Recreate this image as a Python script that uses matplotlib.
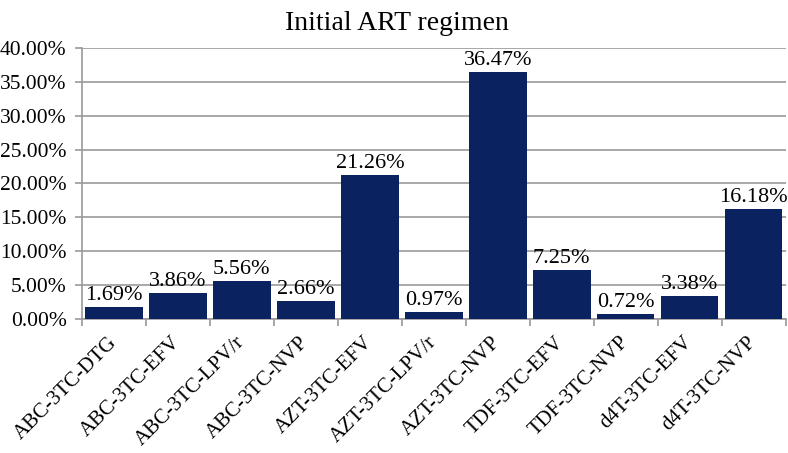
import numpy as np
import matplotlib.pyplot as plt
from matplotlib.ticker import FuncFormatter, FixedLocator

regimens = ["ABC-3TC-DTG", "ABC-3TC-EFV", "ABC-3TC-LPV/r", "ABC-3TC-NVP",
            "AZT-3TC-EFV", "AZT-3TC-LPV/r", "AZT-3TC-NVP", "TDF-3TC-EFV",
            "TDF-3TC-NVP", "d4T-3TC-EFV", "d4T-3TC-NVP"]
percent = [1.69, 3.86, 5.56, 2.66, 21.26, 0.97, 36.47, 7.25, 0.72, 3.38, 16.18]

plt.rcParams['font.family'] = ['Liberation Serif', 'DejaVu Serif']

fig = plt.figure(figsize=(7.88, 4.53), dpi=100)
ax = fig.add_axes([0.104, 0.296, 0.893, 0.598])

x = np.arange(len(regimens))
bars = ax.bar(x, percent, width=0.9, color='#0B2260', zorder=3)
for xi, v in zip(x, percent):
    ax.text(xi, v + 0.3, f"{v:.2f}%", ha='center', va='bottom', fontsize=16, zorder=4)

ax.set_xlim(-0.5, len(regimens) - 0.5)
ax.set_ylim(0, 40)
ax.set_yticks(np.arange(0, 41, 5))
ax.yaxis.set_major_formatter(FuncFormatter(lambda v, p: f"{v:.2f}%"))
ax.grid(axis='y', color='#999999', lw=1.2, zorder=0)

ax.set_xticks(x)
ax.set_xticklabels(regimens, rotation=45, ha='right', va='center',
                   rotation_mode='anchor', fontsize=15)
ax.tick_params(axis='x', which='major', length=0, pad=15)
ax.xaxis.set_minor_locator(FixedLocator(np.arange(-0.5, len(regimens), 1)))
ax.tick_params(axis='x', which='minor', length=5, color='#999999', width=1.2)
ax.tick_params(axis='y', length=5, color='#999999', width=1.2, labelsize=15.5, pad=6)

for s in ['top', 'right']:
    ax.spines[s].set_visible(False)
for s in ['left', 'bottom']:
    ax.spines[s].set_color('#999999')
    ax.spines[s].set_linewidth(1.2)

fig.text(0.504, 0.975, "Initial ART regimen", fontsize=20, ha='center', va='top')

fig.savefig("out.png", dpi=100)
